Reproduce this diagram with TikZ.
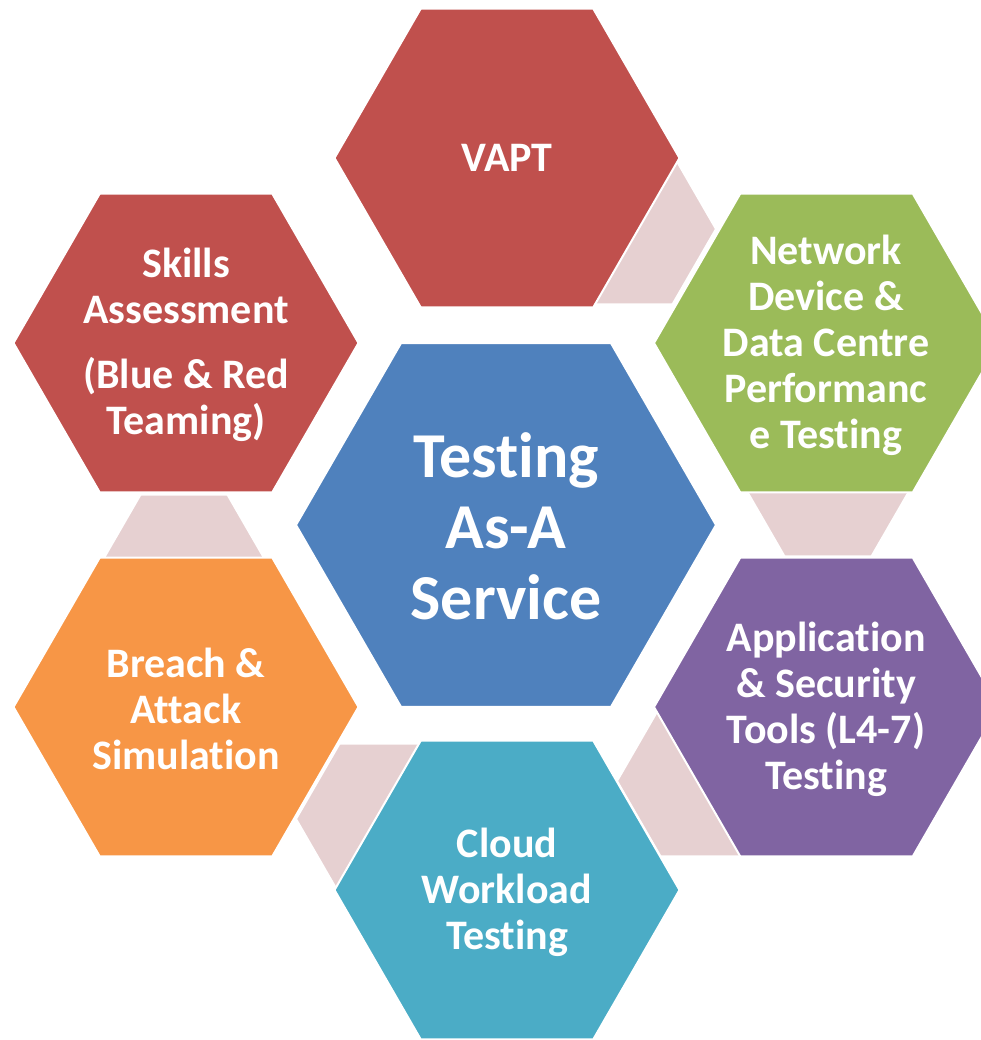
\documentclass[tikz,border=0pt]{standalone}
\usepackage{fontspec}
\setmainfont{Carlito}[Ligatures={NoCommon}]
\definecolor{hred}{HTML}{C0504D}
\definecolor{hgreen}{HTML}{9BBB59}
\definecolor{hpurple}{HTML}{8064A2}
\definecolor{haqua}{HTML}{4BACC6}
\definecolor{horange}{HTML}{F79646}
\definecolor{hblue}{HTML}{4F81BD}
\definecolor{hpink}{HTML}{E6D0D1}
\newcommand\hexa[4]{%
  \filldraw[fill=#4, draw=white, line width=2pt]
    ({#1-#3},{#2}) -- ({#1-0.5*#3},{#2-0.866*#3}) -- ({#1+0.5*#3},{#2-0.866*#3})
    -- ({#1+#3},{#2}) -- ({#1+0.5*#3},{#2+0.866*#3}) -- ({#1-0.5*#3},{#2+0.866*#3}) -- cycle;}
\begin{document}
\begin{tikzpicture}[x=1pt,y=-1pt,
  txt/.style={text=white, font=\bfseries\fontsize{42}{46}\selectfont, align=center, inner sep=0pt},
  bigtxt/.style={text=white, font=\bfseries\fontsize{64}{71}\selectfont, align=center, inner sep=0pt}]
\useasboundingbox (0,0) rectangle (981,1040);
\clip (0,0) rectangle (981,1040);
% connectors (small hexagons behind)
\hexa{629}{229}{87}{hpink}
\hexa{828}{481}{87}{hpink}
\hexa{184}{570}{87}{hpink}
\hexa{383}{819}{87}{hpink}
\hexa{704}{781}{87}{hpink}
% main hexagons
\hexa{507}{158}{172.5}{hred}
\hexa{826.5}{343}{172.5}{hgreen}
\hexa{826.5}{707}{172.5}{hpurple}
\hexa{507}{890}{172.5}{haqua}
\hexa{186}{707}{172.5}{horange}
\hexa{186}{343}{172.5}{hred}
\hexa{506}{525}{210}{hblue}
% texts
\node[bigtxt] (center) at (506,526) {Testing\\As-A\\Service};
\node[txt] (vapt) at (507,158) {VAPT};
\node[txt] (network) at (826,345) {Network\\Device \&\\Data Centre\\Performanc\\e Testing};
\node[txt] (app) at (826,709) {Application\\\& Security\\Tools (L4-7)\\Testing};
\node[txt] (cloud) at (507,892) {Cloud\\Workload\\Testing};
\node[txt] (breach) at (186,709) {Breach \&\\Attack\\Simulation};
\node[txt] (skills) at (186,345) {Skills\\Assessment\\[19pt](Blue \& Red\\Teaming)};
\end{tikzpicture}
\end{document}
